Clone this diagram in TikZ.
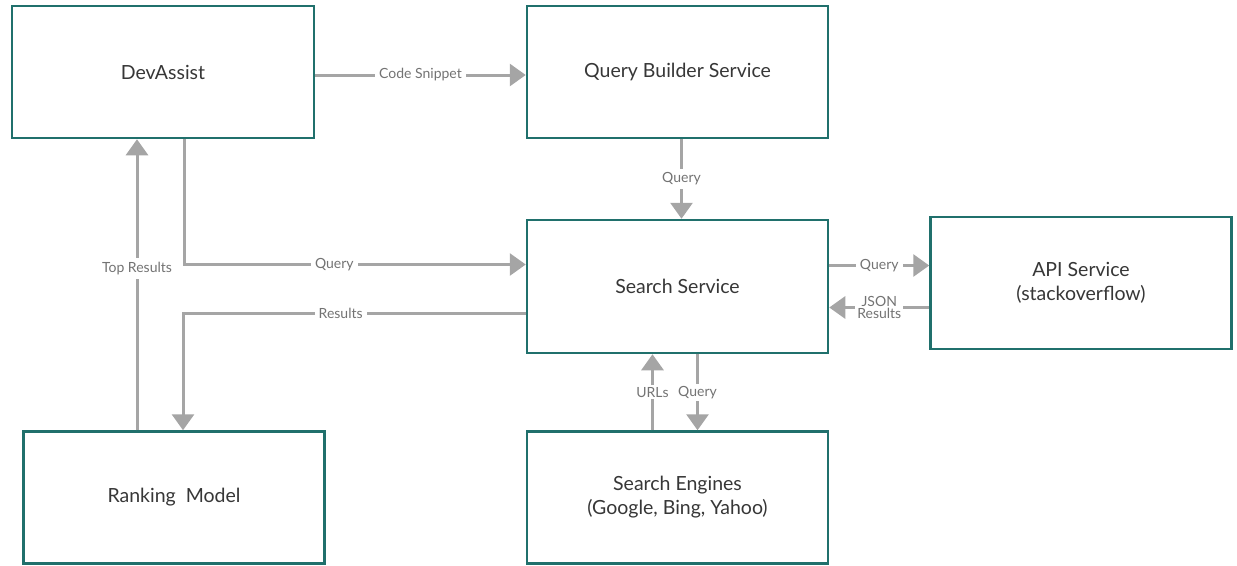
\documentclass[tikz,border=0pt]{standalone}
\usepackage{fontspec}
\setmainfont{Lato}
\usetikzlibrary{arrows.meta, positioning, calc}
\definecolor{cFrame}{RGB}{32,112,108}
\definecolor{cLink}{RGB}{165,165,165}
\definecolor{cLabel}{RGB}{115,115,115}
\definecolor{cText}{RGB}{55,55,55}
\tikzset{
	svcbox/.style={rectangle, draw=cFrame, line width=2.5pt, minimum width=301pt, minimum height=132pt, text centered, align=center, font=\fontsize{19.5}{24}\selectfont, text=cText, fill=white},
	flow/.style={draw=cLink, line width=3pt, -{Triangle[length=16pt, width=22pt]}},
	lbl/.style={fill=white, inner sep=4pt, font=\fontsize{14}{15}\selectfont, text=cLabel, align=center},
}
\begin{document}
\begin{tikzpicture}[x=1pt, y=-1pt]
	\useasboundingbox (0,0) rectangle (1237,565);
	% services
	\node[svcbox, minimum width=302pt] (dev) at (163,72) {DevAssist};
	\node[svcbox] (qb) at (677.5,72) {Query Builder Service};
	\node[svcbox, minimum height=133pt] (ss) at (677.5,286.5) {Search Service};
	\node[svcbox] (api) at (1081,283) {API Service\\(stackoverflow)};
	\node[svcbox] (se) at (677.5,497.5) {Search Engines\\(Google, Bing, Yahoo)};
	\node[svcbox] (rm) at (174,497.5) {Ranking~ Model};
	% links
	\draw[flow] ([yshift=-3pt]dev.east) -- node[lbl] {Code Snippet} ([yshift=-3pt]qb.west);
	\draw[flow] ([xshift=4pt]qb.south) -- node[lbl] {Query} ([xshift=4pt]ss.north);
	\draw[flow] ([xshift=21pt]dev.south) |- node[lbl, pos=0.72] {Query} ([yshift=22pt]ss.west);
	\draw[flow] ([yshift=-27pt]ss.west) -| node[lbl, pos=0.27] {Results} ([xshift=9pt]rm.north);
	\draw[flow] ([xshift=-37pt]rm.north) -- node[lbl, pos=0.555] {Top Results} ([xshift=-37pt]rm.north |- dev.south);
	\draw[flow] ([yshift=21pt]ss.east) -- node[lbl] {Query} ([yshift=21pt]ss.east -| api.west);
	\draw[flow] ([yshift=-21pt]ss.east -| api.west) -- node[lbl, inner sep=2pt] {JSON\\[-3pt]Results} ([yshift=-21pt]ss.east);
	\draw[flow] ([xshift=-25pt]se.north) -- node[lbl, inner sep=2pt] {URLs} ([xshift=-25pt]ss.south);
	\draw[flow] ([xshift=20pt]ss.south) -- node[lbl, inner sep=2pt] {Query} ([xshift=20pt]se.north);
\end{tikzpicture}
\end{document}
